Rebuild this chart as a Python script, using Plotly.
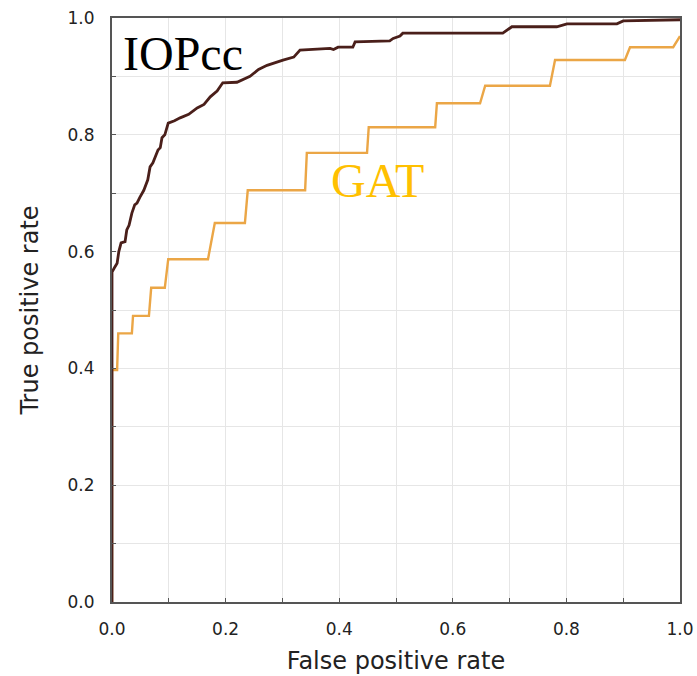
import plotly.graph_objects as go

# IOPcc ROC curve (FPR, TPR)
iop_fpr = [0, 0, 0, 0.004, 0.009, 0.012, 0.016, 0.023, 0.026, 0.030, 0.035, 0.040, 0.044, 0.049, 0.056,
           0.063, 0.067, 0.072, 0.081, 0.085, 0.088, 0.093, 0.099, 0.110, 0.120, 0.135, 0.150, 0.162,
           0.173, 0.185, 0.195, 0.220, 0.230, 0.243, 0.258, 0.273, 0.301, 0.320, 0.331, 0.384, 0.390,
           0.398, 0.424, 0.428, 0.489, 0.495, 0.507, 0.512, 0.688, 0.704, 0.783, 0.801, 0.889, 0.900, 1.0]
iop_tpr = [0, 0.44, 0.565, 0.572, 0.58, 0.60, 0.615, 0.617, 0.637, 0.645, 0.666, 0.68, 0.683, 0.693, 0.705,
           0.723, 0.745, 0.752, 0.774, 0.778, 0.795, 0.800, 0.82, 0.824, 0.829, 0.835, 0.846, 0.852,
           0.865, 0.875, 0.889, 0.89, 0.894, 0.90, 0.912, 0.919, 0.928, 0.933, 0.945, 0.948, 0.946,
           0.95, 0.95, 0.959, 0.961, 0.965, 0.969, 0.974, 0.974, 0.985, 0.985, 0.99, 0.99, 0.995, 0.997]

# GAT ROC curve (FPR, TPR)
gat_fpr = [0, 0, 0.009, 0.011, 0.035, 0.037, 0.065, 0.069, 0.093, 0.099, 0.169, 0.181, 0.234, 0.239,
           0.340, 0.343, 0.449, 0.452, 0.569, 0.572, 0.648, 0.657, 0.771, 0.780, 0.903, 0.912, 0.988, 1.0]
gat_tpr = [0, 0.397, 0.397, 0.46, 0.46, 0.49, 0.49, 0.538, 0.538, 0.587, 0.587, 0.649, 0.649, 0.705,
           0.705, 0.769, 0.769, 0.813, 0.813, 0.854, 0.854, 0.884, 0.884, 0.928, 0.928, 0.95, 0.95, 0.969]

tick_vals = [0.0, 0.2, 0.4, 0.6, 0.8, 1.0]
tick_text = ["0.0", "0.2", "0.4", "0.6", "0.8", "1.0"]

fig = go.Figure()
fig.add_trace(go.Scatter(x=gat_fpr, y=gat_tpr, mode="lines",
                         line=dict(color="#EBA646", width=2.4), showlegend=False))
fig.add_trace(go.Scatter(x=iop_fpr, y=iop_tpr, mode="lines",
                         line=dict(color="#4A1F1A", width=2.8), showlegend=False))

fig.add_annotation(x=0.016, y=0.94, xref="x", yref="y", text="IOPcc", showarrow=False,
                   xanchor="left", yanchor="middle",
                   font=dict(family="Liberation Serif, Times New Roman, serif", size=48, color="#000000"))
fig.add_annotation(x=0.382, y=0.722, xref="x", yref="y", text="GAT", showarrow=False,
                   xanchor="left", yanchor="middle",
                   font=dict(family="Liberation Serif, Times New Roman, serif", size=48, color="#FFC000"))

axis_common = dict(
    range=[0, 1], tickmode="array", tickvals=tick_vals, ticktext=tick_text,
    showgrid=False, zeroline=False, showline=True, linecolor="#555555", linewidth=2,
    mirror=True, ticks="inside", ticklen=4, tickcolor="#555555", automargin=False,
    tickfont=dict(family="DejaVu Sans, Arial, sans-serif", size=17, color="#222222"),
    minor=dict(dtick=0.1, tick0=0, showgrid=True, gridcolor="#E6E6E6", gridwidth=1,
               ticks="inside", ticklen=4, tickcolor="#555555"),
)

fig.update_xaxes(**axis_common, ticklabelstandoff=11,
                 title=dict(text="False positive rate", standoff=14,
                            font=dict(family="DejaVu Sans, Arial, sans-serif", size=24, color="#222222")))
fig.update_yaxes(**axis_common, ticklabelstandoff=12,
                 title=dict(text="True positive rate", standoff=22,
                            font=dict(family="DejaVu Sans, Arial, sans-serif", size=24, color="#222222")))

fig.update_layout(width=697, height=676, autosize=False,
                  margin=dict(l=112, r=17, t=18, b=74),
                  plot_bgcolor="white", paper_bgcolor="white")

fig.write_html("out.html")
